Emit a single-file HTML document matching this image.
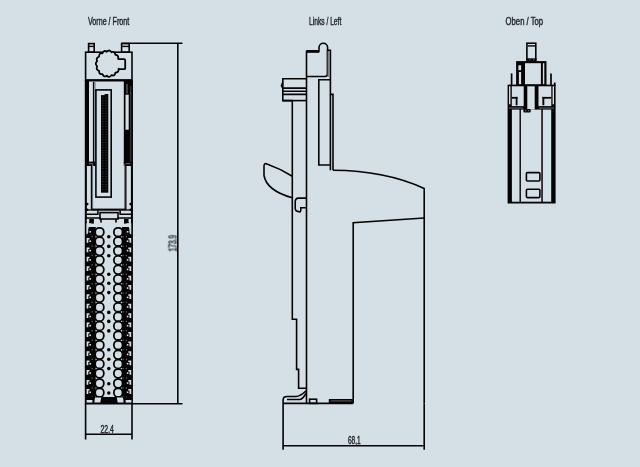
<!DOCTYPE html>
<html><head><meta charset="utf-8"><style>
html,body{margin:0;padding:0;background:#d5e0e6;}
body{width:640px;height:467px;overflow:hidden;position:relative;}
svg{position:absolute;left:0;top:0;}
.t{font-family:"Liberation Sans",sans-serif;fill:#25292d;stroke:#25292d;stroke-width:0.42;}
.s{fill:none;stroke:#040404;stroke-width:1.6;}
.tc{fill:#d5e0e6;stroke:#040404;stroke-width:1.75;}
</style></head><body>
<svg width="640" height="467" viewBox="0 0 640 467">
<defs><filter id="g" x="-10%" y="-10%" width="120%" height="120%"><feGaussianBlur stdDeviation="0.12"/></filter></defs>
<rect width="640" height="467" fill="#d5e0e6"/>
<!-- titles -->
<text class="t" filter="url(#g)" x="88" y="24.7" font-size="10" textLength="41.2" lengthAdjust="spacingAndGlyphs">Vorne / Front</text>
<text class="t" filter="url(#g)" x="309" y="24.7" font-size="10" textLength="32.3" lengthAdjust="spacingAndGlyphs">Links / Left</text>
<text class="t" filter="url(#g)" x="505.6" y="24.7" font-size="10" textLength="37.5" lengthAdjust="spacingAndGlyphs">Oben / Top</text>

<!-- ============ FRONT VIEW ============ -->
<g id="front">
<rect x="88.6" y="43.6" width="5.6" height="8.6" class="s"/>
<line x1="88.6" y1="46.4" x2="94.2" y2="46.4" stroke="#040404" stroke-width="1.4"/>
<rect x="121.6" y="43.6" width="7.6" height="8.6" class="s"/>
<line x1="121.6" y1="46.4" x2="129.2" y2="46.4" stroke="#040404" stroke-width="1.4"/>
<rect x="85.6" y="52.2" width="46.4" height="28" class="s"/>
<path d="M118.60 68.82 Q118.98 72.37 115.41 72.64 Q114.79 76.47 111.42 75.14 Q109.42 78.36 106.84 75.67 Q103.81 77.72 102.46 74.12 Q98.92 74.66 99.04 70.77 Q95.60 69.70 97.16 66.20 Q94.43 63.70 97.16 61.20 Q95.60 57.70 99.04 56.63 Q98.92 52.74 102.46 53.28 Q103.81 49.68 106.84 51.73 Q109.42 49.04 111.42 52.26 Q114.79 50.93 115.41 54.76 Q118.98 55.03 118.12 58.81 L119.2 59.2 H124.2 Q125.2 59.2 125.2 60.2 V68.2 Q125.2 69.2 124.2 69.2 H119.2 Z" fill="#d5e0e6" stroke="#040404" stroke-width="1.8" stroke-linejoin="round"/>
<path d="M85.6 80.2 V403.8 H132.1 V80.2" class="s"/>
<line x1="85.6" y1="80.4" x2="132.1" y2="80.4" stroke="#040404" stroke-width="2.4"/>
<!-- upper body left -->
<rect x="85" y="80" width="4" height="83" fill="#040404"/>
<rect x="92.9" y="82" width="1.5" height="81" fill="#040404"/>
<rect x="94.4" y="82" width="1.3" height="81" fill="#8a9095"/>
<!-- connector frame -->
<rect x="95.9" y="89.9" width="15.3" height="107.2" class="s"/>
<rect x="101" y="94" width="7.3" height="98.7" fill="#040404"/>
<rect x="102.2" y="97.4" width="1.2" height="0.9" fill="#3a3d40"/>
<rect x="105.6" y="97.4" width="1.2" height="0.9" fill="#3a3d40"/>
<rect x="102.2" y="100.0" width="1.2" height="0.9" fill="#3a3d40"/>
<rect x="105.6" y="100.0" width="1.2" height="0.9" fill="#3a3d40"/>
<rect x="102.2" y="102.6" width="1.2" height="0.9" fill="#3a3d40"/>
<rect x="105.6" y="102.6" width="1.2" height="0.9" fill="#3a3d40"/>
<rect x="102.2" y="105.3" width="1.2" height="0.9" fill="#3a3d40"/>
<rect x="105.6" y="105.3" width="1.2" height="0.9" fill="#3a3d40"/>
<rect x="102.2" y="107.9" width="1.2" height="0.9" fill="#3a3d40"/>
<rect x="105.6" y="107.9" width="1.2" height="0.9" fill="#3a3d40"/>
<rect x="102.2" y="110.5" width="1.2" height="0.9" fill="#3a3d40"/>
<rect x="105.6" y="110.5" width="1.2" height="0.9" fill="#3a3d40"/>
<rect x="102.2" y="113.1" width="1.2" height="0.9" fill="#3a3d40"/>
<rect x="105.6" y="113.1" width="1.2" height="0.9" fill="#3a3d40"/>
<rect x="102.2" y="115.7" width="1.2" height="0.9" fill="#3a3d40"/>
<rect x="105.6" y="115.7" width="1.2" height="0.9" fill="#3a3d40"/>
<rect x="102.2" y="118.4" width="1.2" height="0.9" fill="#3a3d40"/>
<rect x="105.6" y="118.4" width="1.2" height="0.9" fill="#3a3d40"/>
<rect x="102.2" y="121.0" width="1.2" height="0.9" fill="#3a3d40"/>
<rect x="105.6" y="121.0" width="1.2" height="0.9" fill="#3a3d40"/>
<rect x="102.2" y="123.6" width="1.2" height="0.9" fill="#3a3d40"/>
<rect x="105.6" y="123.6" width="1.2" height="0.9" fill="#3a3d40"/>
<rect x="102.2" y="126.2" width="1.2" height="0.9" fill="#3a3d40"/>
<rect x="105.6" y="126.2" width="1.2" height="0.9" fill="#3a3d40"/>
<rect x="102.2" y="128.8" width="1.2" height="0.9" fill="#3a3d40"/>
<rect x="105.6" y="128.8" width="1.2" height="0.9" fill="#3a3d40"/>
<rect x="102.2" y="131.5" width="1.2" height="0.9" fill="#3a3d40"/>
<rect x="105.6" y="131.5" width="1.2" height="0.9" fill="#3a3d40"/>
<rect x="102.2" y="134.1" width="1.2" height="0.9" fill="#3a3d40"/>
<rect x="105.6" y="134.1" width="1.2" height="0.9" fill="#3a3d40"/>
<rect x="102.2" y="136.7" width="1.2" height="0.9" fill="#3a3d40"/>
<rect x="105.6" y="136.7" width="1.2" height="0.9" fill="#3a3d40"/>
<rect x="102.2" y="139.3" width="1.2" height="0.9" fill="#3a3d40"/>
<rect x="105.6" y="139.3" width="1.2" height="0.9" fill="#3a3d40"/>
<rect x="102.2" y="141.9" width="1.2" height="0.9" fill="#3a3d40"/>
<rect x="105.6" y="141.9" width="1.2" height="0.9" fill="#3a3d40"/>
<rect x="102.2" y="144.6" width="1.2" height="0.9" fill="#3a3d40"/>
<rect x="105.6" y="144.6" width="1.2" height="0.9" fill="#3a3d40"/>
<rect x="102.2" y="147.2" width="1.2" height="0.9" fill="#3a3d40"/>
<rect x="105.6" y="147.2" width="1.2" height="0.9" fill="#3a3d40"/>
<rect x="102.2" y="149.8" width="1.2" height="0.9" fill="#3a3d40"/>
<rect x="105.6" y="149.8" width="1.2" height="0.9" fill="#3a3d40"/>
<rect x="102.2" y="152.4" width="1.2" height="0.9" fill="#3a3d40"/>
<rect x="105.6" y="152.4" width="1.2" height="0.9" fill="#3a3d40"/>
<rect x="102.2" y="155.0" width="1.2" height="0.9" fill="#3a3d40"/>
<rect x="105.6" y="155.0" width="1.2" height="0.9" fill="#3a3d40"/>
<rect x="102.2" y="157.7" width="1.2" height="0.9" fill="#3a3d40"/>
<rect x="105.6" y="157.7" width="1.2" height="0.9" fill="#3a3d40"/>
<rect x="102.2" y="160.3" width="1.2" height="0.9" fill="#3a3d40"/>
<rect x="105.6" y="160.3" width="1.2" height="0.9" fill="#3a3d40"/>
<rect x="102.2" y="162.9" width="1.2" height="0.9" fill="#3a3d40"/>
<rect x="105.6" y="162.9" width="1.2" height="0.9" fill="#3a3d40"/>
<rect x="102.2" y="165.5" width="1.2" height="0.9" fill="#3a3d40"/>
<rect x="105.6" y="165.5" width="1.2" height="0.9" fill="#3a3d40"/>
<rect x="102.2" y="168.1" width="1.2" height="0.9" fill="#3a3d40"/>
<rect x="105.6" y="168.1" width="1.2" height="0.9" fill="#3a3d40"/>
<rect x="102.2" y="170.8" width="1.2" height="0.9" fill="#3a3d40"/>
<rect x="105.6" y="170.8" width="1.2" height="0.9" fill="#3a3d40"/>
<rect x="102.2" y="173.4" width="1.2" height="0.9" fill="#3a3d40"/>
<rect x="105.6" y="173.4" width="1.2" height="0.9" fill="#3a3d40"/>
<rect x="102.2" y="176.0" width="1.2" height="0.9" fill="#3a3d40"/>
<rect x="105.6" y="176.0" width="1.2" height="0.9" fill="#3a3d40"/>
<rect x="102.2" y="178.6" width="1.2" height="0.9" fill="#3a3d40"/>
<rect x="105.6" y="178.6" width="1.2" height="0.9" fill="#3a3d40"/>
<rect x="102.2" y="181.2" width="1.2" height="0.9" fill="#3a3d40"/>
<rect x="105.6" y="181.2" width="1.2" height="0.9" fill="#3a3d40"/>
<rect x="102.2" y="183.9" width="1.2" height="0.9" fill="#3a3d40"/>
<rect x="105.6" y="183.9" width="1.2" height="0.9" fill="#3a3d40"/>
<rect x="102.2" y="186.5" width="1.2" height="0.9" fill="#3a3d40"/>
<rect x="105.6" y="186.5" width="1.2" height="0.9" fill="#3a3d40"/>
<rect x="102.2" y="189.1" width="1.2" height="0.9" fill="#3a3d40"/>
<rect x="105.6" y="189.1" width="1.2" height="0.9" fill="#3a3d40"/>
<rect x="100.6" y="93.5" width="4" height="1.6" fill="#d5e0e6"/>
<!-- right strip upper -->
<rect x="123.8" y="81" width="8.9" height="82" fill="#040404"/>
<rect x="125.5" y="94.7" width="3.2" height="35" fill="#d5e0e6"/>
<rect x="126.3" y="84" width="1.4" height="9.5" fill="#5a5f63"/>
<rect x="130.4" y="86" width="0.8" height="76" fill="#55595c"/>
<!-- step -->
<rect x="85" y="161.6" width="10.5" height="4.4" fill="#040404"/>
<rect x="123.8" y="161.6" width="8.9" height="4.4" fill="#040404"/>
<rect x="89" y="163.3" width="4" height="0.9" fill="#7d8286"/>
<rect x="125.5" y="163.3" width="5" height="0.9" fill="#7d8286"/>
<!-- lower frame -->
<rect x="85" y="163" width="1.8" height="64" fill="#040404"/>
<rect x="130.9" y="163" width="1.8" height="64" fill="#040404"/>
<rect x="90.8" y="164" width="1.4" height="46" fill="#040404"/>
<rect x="92.2" y="164" width="0.9" height="45" fill="#5d6266"/>
<rect x="125.1" y="164" width="1.4" height="46" fill="#040404"/>
<rect x="124.2" y="164" width="0.9" height="45" fill="#5d6266"/>
<rect x="91.3" y="208.6" width="35" height="1.7" fill="#040404"/>
<circle cx="87.2" cy="204.1" r="1.3" fill="#040404"/>
<circle cx="87.2" cy="209.8" r="1.3" fill="#040404"/>
<circle cx="130.6" cy="204.1" r="1.3" fill="#040404"/>
<circle cx="130.6" cy="209.8" r="1.3" fill="#040404"/>
<rect x="85" y="209.3" width="47.7" height="1.3" fill="#040404"/>
<path d="M86 214.3 H98.4 M97.9 210.5 V214.7 M132 214.3 H119.6 M120.1 210.5 V214.7" class="s" stroke-width="1.0"/>
<rect x="100" y="212.6" width="18" height="6.4" class="s" stroke-width="1.6"/>
<path d="M86 218 H100.5 M117.5 218 H132" class="s" stroke-width="1.4"/>
<rect x="89.1" y="219" width="4.8" height="4.6" fill="#040404"/>
<rect x="124" y="219" width="4.8" height="4.6" fill="#040404"/>
<rect x="100.2" y="219" width="1.6" height="3.6" fill="#040404"/>
<rect x="115.2" y="219" width="1.6" height="3.6" fill="#040404"/>
<rect x="86.8" y="219.2" width="2.4" height="2.8" fill="#d5e0e6"/>
<rect x="128.6" y="219.2" width="2.4" height="2.8" fill="#d5e0e6"/>
<rect x="85.6" y="227" width="10.2" height="172" fill="#040404"/>
<path d="M86.4 223.3 H91.5 Q88.6 225.5 88.3 229 L88.2 232.5 Q87.6 234.4 86.4 234.6 Z" fill="#d5e0e6"/>
<rect x="122" y="227" width="10.1" height="172" fill="#040404"/>
<path d="M131.3 223.3 H126.2 Q129.1 225.5 129.4 229 L129.5 232.5 Q130.1 234.4 131.3 234.6 Z" fill="#d5e0e6"/>
<rect x="89.4" y="231.00" width="1.6" height="1.6" fill="#d5e0e6"/>
<rect x="126.8" y="231.00" width="1.6" height="1.6" fill="#d5e0e6"/>
<rect x="91.6" y="236.1" width="1.2" height="1.2" fill="#6a6e72"/>
<rect x="94.9" y="236.1" width="1.2" height="1.2" fill="#6a6e72"/>
<rect x="122.5" y="236.1" width="1.2" height="1.2" fill="#6a6e72"/>
<rect x="125.8" y="236.1" width="1.2" height="1.2" fill="#6a6e72"/>
<path d="M86.6 238.00h2.9v1.5h-1.2v3.3h-1.7z" fill="#d5e0e6"/>
<path d="M131.2 238.00h-2.9v1.5h1.2v3.3h1.7z" fill="#d5e0e6"/>
<rect x="89.4" y="240.40" width="1.6" height="1.6" fill="#d5e0e6"/>
<rect x="126.8" y="240.40" width="1.6" height="1.6" fill="#d5e0e6"/>
<rect x="91.6" y="245.5" width="1.2" height="1.2" fill="#6a6e72"/>
<rect x="94.9" y="245.5" width="1.2" height="1.2" fill="#6a6e72"/>
<rect x="122.5" y="245.5" width="1.2" height="1.2" fill="#6a6e72"/>
<rect x="125.8" y="245.5" width="1.2" height="1.2" fill="#6a6e72"/>
<path d="M86.6 247.40h2.9v1.5h-1.2v3.3h-1.7z" fill="#d5e0e6"/>
<path d="M131.2 247.40h-2.9v1.5h1.2v3.3h1.7z" fill="#d5e0e6"/>
<rect x="89.4" y="249.80" width="1.6" height="1.6" fill="#d5e0e6"/>
<rect x="126.8" y="249.80" width="1.6" height="1.6" fill="#d5e0e6"/>
<rect x="91.6" y="254.9" width="1.2" height="1.2" fill="#6a6e72"/>
<rect x="94.9" y="254.9" width="1.2" height="1.2" fill="#6a6e72"/>
<rect x="122.5" y="254.9" width="1.2" height="1.2" fill="#6a6e72"/>
<rect x="125.8" y="254.9" width="1.2" height="1.2" fill="#6a6e72"/>
<path d="M86.6 256.70h2.9v1.5h-1.2v3.3h-1.7z" fill="#d5e0e6"/>
<path d="M131.2 256.70h-2.9v1.5h1.2v3.3h1.7z" fill="#d5e0e6"/>
<rect x="89.4" y="259.10" width="1.6" height="1.6" fill="#d5e0e6"/>
<rect x="126.8" y="259.10" width="1.6" height="1.6" fill="#d5e0e6"/>
<rect x="91.6" y="264.2" width="1.2" height="1.2" fill="#6a6e72"/>
<rect x="94.9" y="264.2" width="1.2" height="1.2" fill="#6a6e72"/>
<rect x="122.5" y="264.2" width="1.2" height="1.2" fill="#6a6e72"/>
<rect x="125.8" y="264.2" width="1.2" height="1.2" fill="#6a6e72"/>
<path d="M86.6 266.20h2.9v1.5h-1.2v3.3h-1.7z" fill="#d5e0e6"/>
<path d="M131.2 266.20h-2.9v1.5h1.2v3.3h1.7z" fill="#d5e0e6"/>
<rect x="89.4" y="268.60" width="1.6" height="1.6" fill="#d5e0e6"/>
<rect x="126.8" y="268.60" width="1.6" height="1.6" fill="#d5e0e6"/>
<rect x="91.6" y="273.7" width="1.2" height="1.2" fill="#6a6e72"/>
<rect x="94.9" y="273.7" width="1.2" height="1.2" fill="#6a6e72"/>
<rect x="122.5" y="273.7" width="1.2" height="1.2" fill="#6a6e72"/>
<rect x="125.8" y="273.7" width="1.2" height="1.2" fill="#6a6e72"/>
<path d="M86.6 275.70h2.9v1.5h-1.2v3.3h-1.7z" fill="#d5e0e6"/>
<path d="M131.2 275.70h-2.9v1.5h1.2v3.3h1.7z" fill="#d5e0e6"/>
<rect x="89.4" y="278.10" width="1.6" height="1.6" fill="#d5e0e6"/>
<rect x="126.8" y="278.10" width="1.6" height="1.6" fill="#d5e0e6"/>
<rect x="91.6" y="283.2" width="1.2" height="1.2" fill="#6a6e72"/>
<rect x="94.9" y="283.2" width="1.2" height="1.2" fill="#6a6e72"/>
<rect x="122.5" y="283.2" width="1.2" height="1.2" fill="#6a6e72"/>
<rect x="125.8" y="283.2" width="1.2" height="1.2" fill="#6a6e72"/>
<path d="M86.6 284.90h2.9v1.5h-1.2v3.3h-1.7z" fill="#d5e0e6"/>
<path d="M131.2 284.90h-2.9v1.5h1.2v3.3h1.7z" fill="#d5e0e6"/>
<rect x="89.4" y="287.30" width="1.6" height="1.6" fill="#d5e0e6"/>
<rect x="126.8" y="287.30" width="1.6" height="1.6" fill="#d5e0e6"/>
<rect x="91.6" y="292.4" width="1.2" height="1.2" fill="#6a6e72"/>
<rect x="94.9" y="292.4" width="1.2" height="1.2" fill="#6a6e72"/>
<rect x="122.5" y="292.4" width="1.2" height="1.2" fill="#6a6e72"/>
<rect x="125.8" y="292.4" width="1.2" height="1.2" fill="#6a6e72"/>
<path d="M86.6 294.20h2.9v1.5h-1.2v3.3h-1.7z" fill="#d5e0e6"/>
<path d="M131.2 294.20h-2.9v1.5h1.2v3.3h1.7z" fill="#d5e0e6"/>
<rect x="89.4" y="296.60" width="1.6" height="1.6" fill="#d5e0e6"/>
<rect x="126.8" y="296.60" width="1.6" height="1.6" fill="#d5e0e6"/>
<rect x="91.6" y="301.7" width="1.2" height="1.2" fill="#6a6e72"/>
<rect x="94.9" y="301.7" width="1.2" height="1.2" fill="#6a6e72"/>
<rect x="122.5" y="301.7" width="1.2" height="1.2" fill="#6a6e72"/>
<rect x="125.8" y="301.7" width="1.2" height="1.2" fill="#6a6e72"/>
<path d="M86.6 303.80h2.9v1.5h-1.2v3.3h-1.7z" fill="#d5e0e6"/>
<path d="M131.2 303.80h-2.9v1.5h1.2v3.3h1.7z" fill="#d5e0e6"/>
<rect x="89.4" y="306.20" width="1.6" height="1.6" fill="#d5e0e6"/>
<rect x="126.8" y="306.20" width="1.6" height="1.6" fill="#d5e0e6"/>
<rect x="91.6" y="311.3" width="1.2" height="1.2" fill="#6a6e72"/>
<rect x="94.9" y="311.3" width="1.2" height="1.2" fill="#6a6e72"/>
<rect x="122.5" y="311.3" width="1.2" height="1.2" fill="#6a6e72"/>
<rect x="125.8" y="311.3" width="1.2" height="1.2" fill="#6a6e72"/>
<path d="M86.6 313.30h2.9v1.5h-1.2v3.3h-1.7z" fill="#d5e0e6"/>
<path d="M131.2 313.30h-2.9v1.5h1.2v3.3h1.7z" fill="#d5e0e6"/>
<rect x="89.4" y="315.70" width="1.6" height="1.6" fill="#d5e0e6"/>
<rect x="126.8" y="315.70" width="1.6" height="1.6" fill="#d5e0e6"/>
<rect x="91.6" y="320.8" width="1.2" height="1.2" fill="#6a6e72"/>
<rect x="94.9" y="320.8" width="1.2" height="1.2" fill="#6a6e72"/>
<rect x="122.5" y="320.8" width="1.2" height="1.2" fill="#6a6e72"/>
<rect x="125.8" y="320.8" width="1.2" height="1.2" fill="#6a6e72"/>
<path d="M86.6 322.50h2.9v1.5h-1.2v3.3h-1.7z" fill="#d5e0e6"/>
<path d="M131.2 322.50h-2.9v1.5h1.2v3.3h1.7z" fill="#d5e0e6"/>
<rect x="89.4" y="324.90" width="1.6" height="1.6" fill="#d5e0e6"/>
<rect x="126.8" y="324.90" width="1.6" height="1.6" fill="#d5e0e6"/>
<rect x="91.6" y="330.0" width="1.2" height="1.2" fill="#6a6e72"/>
<rect x="94.9" y="330.0" width="1.2" height="1.2" fill="#6a6e72"/>
<rect x="122.5" y="330.0" width="1.2" height="1.2" fill="#6a6e72"/>
<rect x="125.8" y="330.0" width="1.2" height="1.2" fill="#6a6e72"/>
<path d="M86.6 332.10h2.9v1.5h-1.2v3.3h-1.7z" fill="#d5e0e6"/>
<path d="M131.2 332.10h-2.9v1.5h1.2v3.3h1.7z" fill="#d5e0e6"/>
<rect x="89.4" y="334.50" width="1.6" height="1.6" fill="#d5e0e6"/>
<rect x="126.8" y="334.50" width="1.6" height="1.6" fill="#d5e0e6"/>
<rect x="91.6" y="339.6" width="1.2" height="1.2" fill="#6a6e72"/>
<rect x="94.9" y="339.6" width="1.2" height="1.2" fill="#6a6e72"/>
<rect x="122.5" y="339.6" width="1.2" height="1.2" fill="#6a6e72"/>
<rect x="125.8" y="339.6" width="1.2" height="1.2" fill="#6a6e72"/>
<path d="M86.6 341.60h2.9v1.5h-1.2v3.3h-1.7z" fill="#d5e0e6"/>
<path d="M131.2 341.60h-2.9v1.5h1.2v3.3h1.7z" fill="#d5e0e6"/>
<rect x="89.4" y="344.00" width="1.6" height="1.6" fill="#d5e0e6"/>
<rect x="126.8" y="344.00" width="1.6" height="1.6" fill="#d5e0e6"/>
<rect x="91.6" y="349.1" width="1.2" height="1.2" fill="#6a6e72"/>
<rect x="94.9" y="349.1" width="1.2" height="1.2" fill="#6a6e72"/>
<rect x="122.5" y="349.1" width="1.2" height="1.2" fill="#6a6e72"/>
<rect x="125.8" y="349.1" width="1.2" height="1.2" fill="#6a6e72"/>
<path d="M86.6 351.20h2.9v1.5h-1.2v3.3h-1.7z" fill="#d5e0e6"/>
<path d="M131.2 351.20h-2.9v1.5h1.2v3.3h1.7z" fill="#d5e0e6"/>
<rect x="89.4" y="353.60" width="1.6" height="1.6" fill="#d5e0e6"/>
<rect x="126.8" y="353.60" width="1.6" height="1.6" fill="#d5e0e6"/>
<rect x="91.6" y="358.7" width="1.2" height="1.2" fill="#6a6e72"/>
<rect x="94.9" y="358.7" width="1.2" height="1.2" fill="#6a6e72"/>
<rect x="122.5" y="358.7" width="1.2" height="1.2" fill="#6a6e72"/>
<rect x="125.8" y="358.7" width="1.2" height="1.2" fill="#6a6e72"/>
<path d="M86.6 360.50h2.9v1.5h-1.2v3.3h-1.7z" fill="#d5e0e6"/>
<path d="M131.2 360.50h-2.9v1.5h1.2v3.3h1.7z" fill="#d5e0e6"/>
<rect x="89.4" y="362.90" width="1.6" height="1.6" fill="#d5e0e6"/>
<rect x="126.8" y="362.90" width="1.6" height="1.6" fill="#d5e0e6"/>
<rect x="91.6" y="368.0" width="1.2" height="1.2" fill="#6a6e72"/>
<rect x="94.9" y="368.0" width="1.2" height="1.2" fill="#6a6e72"/>
<rect x="122.5" y="368.0" width="1.2" height="1.2" fill="#6a6e72"/>
<rect x="125.8" y="368.0" width="1.2" height="1.2" fill="#6a6e72"/>
<path d="M86.6 369.90h2.9v1.5h-1.2v3.3h-1.7z" fill="#d5e0e6"/>
<path d="M131.2 369.90h-2.9v1.5h1.2v3.3h1.7z" fill="#d5e0e6"/>
<rect x="89.4" y="372.30" width="1.6" height="1.6" fill="#d5e0e6"/>
<rect x="126.8" y="372.30" width="1.6" height="1.6" fill="#d5e0e6"/>
<rect x="91.6" y="377.4" width="1.2" height="1.2" fill="#6a6e72"/>
<rect x="94.9" y="377.4" width="1.2" height="1.2" fill="#6a6e72"/>
<rect x="122.5" y="377.4" width="1.2" height="1.2" fill="#6a6e72"/>
<rect x="125.8" y="377.4" width="1.2" height="1.2" fill="#6a6e72"/>
<path d="M86.6 379.90h2.9v1.5h-1.2v3.3h-1.7z" fill="#d5e0e6"/>
<path d="M131.2 379.90h-2.9v1.5h1.2v3.3h1.7z" fill="#d5e0e6"/>
<rect x="89.4" y="382.30" width="1.6" height="1.6" fill="#d5e0e6"/>
<rect x="126.8" y="382.30" width="1.6" height="1.6" fill="#d5e0e6"/>
<rect x="91.6" y="387.4" width="1.2" height="1.2" fill="#6a6e72"/>
<rect x="94.9" y="387.4" width="1.2" height="1.2" fill="#6a6e72"/>
<rect x="122.5" y="387.4" width="1.2" height="1.2" fill="#6a6e72"/>
<rect x="125.8" y="387.4" width="1.2" height="1.2" fill="#6a6e72"/>
<path d="M86.6 389.10h2.9v1.5h-1.2v3.3h-1.7z" fill="#d5e0e6"/>
<path d="M131.2 389.10h-2.9v1.5h1.2v3.3h1.7z" fill="#d5e0e6"/>
<rect x="89.4" y="391.50" width="1.6" height="1.6" fill="#d5e0e6"/>
<rect x="126.8" y="391.50" width="1.6" height="1.6" fill="#d5e0e6"/>
<rect x="91.6" y="396.6" width="1.2" height="1.2" fill="#6a6e72"/>
<rect x="94.9" y="396.6" width="1.2" height="1.2" fill="#6a6e72"/>
<rect x="122.5" y="396.6" width="1.2" height="1.2" fill="#6a6e72"/>
<rect x="125.8" y="396.6" width="1.2" height="1.2" fill="#6a6e72"/>
<rect x="95.20" y="227.75" width="8.6" height="8.7" rx="3.95" class="tc"/>
<rect x="113.90" y="227.75" width="8.6" height="8.7" rx="3.95" class="tc"/>
<rect x="95.20" y="237.15" width="8.6" height="8.7" rx="3.95" class="tc"/>
<rect x="113.90" y="237.15" width="8.6" height="8.7" rx="3.95" class="tc"/>
<rect x="95.20" y="246.55" width="8.6" height="8.7" rx="3.95" class="tc"/>
<rect x="113.90" y="246.55" width="8.6" height="8.7" rx="3.95" class="tc"/>
<rect x="95.20" y="255.85" width="8.6" height="8.7" rx="3.95" class="tc"/>
<rect x="113.90" y="255.85" width="8.6" height="8.7" rx="3.95" class="tc"/>
<rect x="95.20" y="265.35" width="8.6" height="8.7" rx="3.95" class="tc"/>
<rect x="113.90" y="265.35" width="8.6" height="8.7" rx="3.95" class="tc"/>
<rect x="95.20" y="274.85" width="8.6" height="8.7" rx="3.95" class="tc"/>
<rect x="113.90" y="274.85" width="8.6" height="8.7" rx="3.95" class="tc"/>
<rect x="95.20" y="284.05" width="8.6" height="8.7" rx="3.95" class="tc"/>
<rect x="113.90" y="284.05" width="8.6" height="8.7" rx="3.95" class="tc"/>
<rect x="95.20" y="293.35" width="8.6" height="8.7" rx="3.95" class="tc"/>
<rect x="113.90" y="293.35" width="8.6" height="8.7" rx="3.95" class="tc"/>
<rect x="95.20" y="302.95" width="8.6" height="8.7" rx="3.95" class="tc"/>
<rect x="113.90" y="302.95" width="8.6" height="8.7" rx="3.95" class="tc"/>
<rect x="95.20" y="312.45" width="8.6" height="8.7" rx="3.95" class="tc"/>
<rect x="113.90" y="312.45" width="8.6" height="8.7" rx="3.95" class="tc"/>
<rect x="95.20" y="321.65" width="8.6" height="8.7" rx="3.95" class="tc"/>
<rect x="113.90" y="321.65" width="8.6" height="8.7" rx="3.95" class="tc"/>
<rect x="95.20" y="331.25" width="8.6" height="8.7" rx="3.95" class="tc"/>
<rect x="113.90" y="331.25" width="8.6" height="8.7" rx="3.95" class="tc"/>
<rect x="95.20" y="340.75" width="8.6" height="8.7" rx="3.95" class="tc"/>
<rect x="113.90" y="340.75" width="8.6" height="8.7" rx="3.95" class="tc"/>
<rect x="95.20" y="350.35" width="8.6" height="8.7" rx="3.95" class="tc"/>
<rect x="113.90" y="350.35" width="8.6" height="8.7" rx="3.95" class="tc"/>
<rect x="95.20" y="359.65" width="8.6" height="8.7" rx="3.95" class="tc"/>
<rect x="113.90" y="359.65" width="8.6" height="8.7" rx="3.95" class="tc"/>
<rect x="95.20" y="369.05" width="8.6" height="8.7" rx="3.95" class="tc"/>
<rect x="113.90" y="369.05" width="8.6" height="8.7" rx="3.95" class="tc"/>
<rect x="95.20" y="379.05" width="8.6" height="8.7" rx="3.95" class="tc"/>
<rect x="113.90" y="379.05" width="8.6" height="8.7" rx="3.95" class="tc"/>
<rect x="95.20" y="388.25" width="8.6" height="8.7" rx="3.95" class="tc"/>
<rect x="113.90" y="388.25" width="8.6" height="8.7" rx="3.95" class="tc"/>
<circle cx="108.8" cy="236.8" r="1.8" fill="#040404"/>
<circle cx="108.8" cy="246.4" r="1.8" fill="#040404"/>
<circle cx="108.8" cy="255.7" r="1.8" fill="#040404"/>
<circle cx="108.8" cy="274.2" r="1.8" fill="#040404"/>
<circle cx="108.8" cy="283.2" r="1.8" fill="#040404"/>
<circle cx="108.8" cy="292.6" r="1.8" fill="#040404"/>
<circle cx="108.8" cy="312.4" r="1.8" fill="#040404"/>
<circle cx="108.8" cy="321.4" r="1.8" fill="#040404"/>
<circle cx="108.8" cy="330.9" r="1.8" fill="#040404"/>
<circle cx="108.8" cy="349.8" r="1.8" fill="#040404"/>
<circle cx="108.8" cy="359.3" r="1.8" fill="#040404"/>
<circle cx="108.8" cy="368.6" r="1.8" fill="#040404"/>
<circle cx="108.8" cy="383.7" r="1.8" fill="#040404"/>
<circle cx="108.8" cy="393.0" r="1.8" fill="#040404"/>
<rect x="85.6" y="397" width="46.5" height="6.8" fill="#040404"/>
<path d="M94.4 402.6 L95 397.4 H101.2 L100.3 402.6 Z" fill="#d5e0e6"/>
<path d="M123.6 402.6 L123 397.4 H116.8 L117.7 402.6 Z" fill="#d5e0e6"/>
<rect x="86.6" y="400" width="5.8" height="2.6" fill="#d5e0e6"/>
<rect x="125.6" y="400" width="5.8" height="2.6" fill="#d5e0e6"/>
<path d="M121.6 43.3 H182.5 M177.8 43.3 V403.8 M132.1 403.8 H182.5" class="s"/>
<path d="M85.6 403.8 V439.5 M132 403.8 V439.5 M85.6 434.3 H132" class="s"/>
<text class="t" filter="url(#g)" x="100.5" y="432.6" font-size="10" textLength="13.4" lengthAdjust="spacingAndGlyphs">22.4</text>
<text class="t" filter="url(#g)" transform="translate(176.5 251.4) rotate(-90)" x="0" y="0" font-size="10" textLength="16.3" lengthAdjust="spacingAndGlyphs">173.9</text>
</g>

<!-- ============ SIDE VIEW ============ -->
<g id="side">
<path d="M306.5 403.6 V51.4 H319 V47.6 A4.3 4.3 0 0 1 327.6 47.6 V50.2 H330.4 V94.4 H333 V170.3" class="s"/>
<line x1="306.5" y1="51.4" x2="319" y2="51.4" stroke="#040404" stroke-width="2.8"/>
<path d="M306.5 76.5 H325 Q327.4 76.5 327.4 74 V50.5" class="s"/>
<rect x="327.6" y="51" width="2" height="26" fill="#7a7f83"/>
<path d="M330.4 79.8 H318.8 V165 H330.4 V94.4 M330.4 165 V170.3" class="s"/>
<path d="M306.5 78.8 H282.8 V100.6 H292.3 V319.3 H296.6 V369.4 H298.6 V388.3 H306.5" class="s"/>
<path d="M282.8 88.1 H306.5 M282.8 91.2 H306.5 M282.8 94.4 H306.5" class="s" stroke-width="1.3"/>
<path d="M282.8 100.6 H306.5" class="s"/>
<path d="M283.2 81.2 Q280.4 83.2 280.6 85.8 Q280.9 87.6 283.2 89.6 Z" fill="#040404"/>
<path d="M292.3 176.3 L280.5 169.6 L267 163.9 Q264 162.8 264 166.2 L264 175.5 Q266.5 190.5 292.3 197.8" class="s"/>
<path d="M306.5 198.1 H298.5 Q295.2 198.1 295.2 202 V208.5 Q295.2 211.7 300 211.9 Q300.8 211.9 300.8 209.8 V207.8 H306.5" class="s"/>
<path d="M333 170.3 Q385 170.5 424.2 188.5 V403.6" class="s"/>
<path d="M424.2 218 L353.2 222.8 V403.6" class="s"/>
<path d="M283.1 449.8 V400 Q283.1 396.5 287 396.5 H296 Q300 396.5 306.5 390.5" class="s"/>
<path d="M287 399.5 H300 Q303 399 306.5 392.5" class="s" stroke-width="1"/>
<path d="M283.1 403.4 H353" class="s"/>
<rect x="309.6" y="399.2" width="7" height="4.2" class="s" stroke-width="1.3"/>
<rect x="328.8" y="399" width="24.2" height="4.4" fill="#040404"/>
<rect x="330.5" y="400.3" width="21" height="1.2" fill="#555"/>
<path d="M283.1 445.7 H424.2 M424.2 403.6 V449.8" class="s"/>
<text class="t" filter="url(#g)" x="348" y="443.8" font-size="10" textLength="12.6" lengthAdjust="spacingAndGlyphs">68,1</text>
</g>

<!-- ============ TOP VIEW ============ -->
<g id="top">
<!-- tab -->
<rect x="526.9" y="43.2" width="8.9" height="16.4" class="s"/>
<rect x="526.2" y="58.4" width="10.4" height="3.2" fill="#040404"/>
<rect x="527.6" y="45.2" width="7.6" height="1.4" fill="#040404"/>
<rect x="529.4" y="59.3" width="1" height="1" fill="#777"/>
<rect x="533" y="59.3" width="1" height="1" fill="#777"/>
<!-- middle block -->
<rect x="516.1" y="61.1" width="30.4" height="24" fill="#040404"/>
<rect x="518.4" y="65.3" width="2.7" height="4.9" fill="#d5e0e6"/>
<rect x="518.9" y="72" width="2.2" height="12.3" fill="#d5e0e6"/>
<rect x="525" y="63.2" width="15.9" height="21.1" fill="#d5e0e6"/>
<rect x="542.9" y="63.2" width="1.4" height="21.1" fill="#d5e0e6"/>
<line x1="511.6" y1="73.4" x2="511.6" y2="86" stroke="#040404" stroke-width="1.7"/>
<line x1="551" y1="73.4" x2="551" y2="86" stroke="#040404" stroke-width="1.7"/>
<line x1="554.7" y1="82.5" x2="554.7" y2="86" stroke="#040404" stroke-width="1.7"/>
<!-- lower body -->
<rect x="507.6" y="84.6" width="48" height="118.9" fill="#040404"/>
<!-- upper part light regions (86-106) -->
<rect x="509" y="86.3" width="1.4" height="18" fill="#d5e0e6"/>
<rect x="511.8" y="86.3" width="11.9" height="19.8" fill="#d5e0e6"/>
<rect x="511.8" y="96.9" width="5.7" height="1.8" fill="#040404"/>
<rect x="515.7" y="96.9" width="1.8" height="8.4" fill="#040404"/>
<rect x="527.3" y="86.3" width="7.4" height="23.3" fill="#d5e0e6"/>
<rect x="538.5" y="86.3" width="12.8" height="19.8" fill="#d5e0e6"/>
<rect x="542.4" y="96.9" width="8.9" height="1.8" fill="#040404"/>
<rect x="542.4" y="96.9" width="1.9" height="8.4" fill="#040404"/>
<rect x="552.6" y="86.3" width="1.4" height="18" fill="#d5e0e6"/>
<rect x="509" y="107.6" width="14" height="0.9" fill="#777c80"/>
<rect x="539" y="107.6" width="15" height="0.9" fill="#777c80"/>
<!-- lower part (109.5 - 201.8) -->
<rect x="511.9" y="109.6" width="7.6" height="92.1" fill="#d5e0e6"/>
<rect x="520.9" y="109.6" width="20.4" height="92.1" fill="#d5e0e6"/>
<rect x="542.8" y="109.6" width="8.4" height="92.1" fill="#d5e0e6"/>
<rect x="523.4" y="109" width="7.3" height="3.4" rx="1" fill="#040404"/>
<rect x="525.2" y="110.2" width="1" height="1" fill="#888"/>
<rect x="528" y="110.2" width="1" height="1" fill="#888"/>
<rect x="526.4" y="172.6" width="13.5" height="8.4" rx="1" class="s" stroke-width="1.5"/>
<rect x="526.4" y="189.2" width="13.5" height="8.4" rx="1" class="s" stroke-width="1.5"/>
</g>
</svg>
</body></html>
